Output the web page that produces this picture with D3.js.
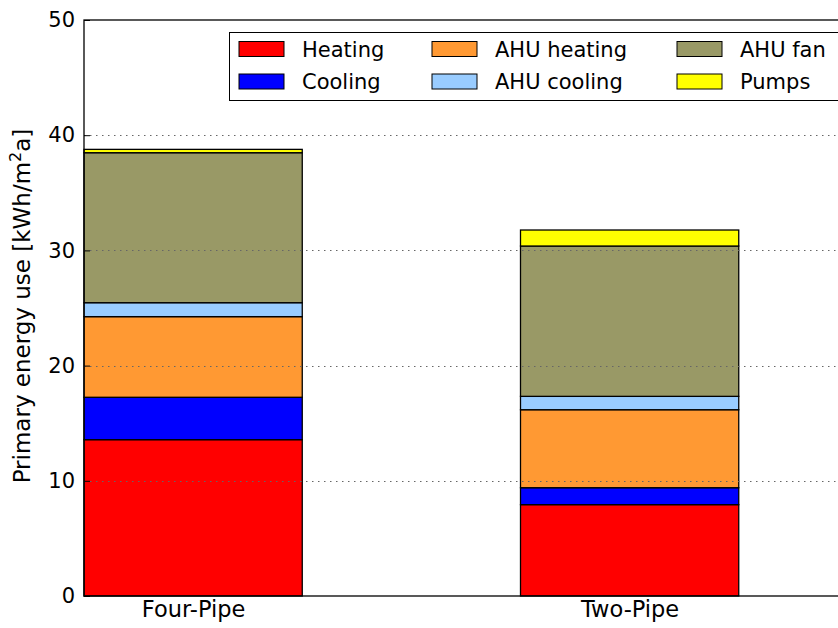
<!DOCTYPE html>
<html><head><meta charset="utf-8">
<script src="https://cdn.jsdelivr.net/npm/d3@7"></script>
<style>body{margin:0;background:#fff;} svg{display:block;font-family:"DejaVu Sans",sans-serif;}</style>
</head><body>
<svg id="c" width="838" height="628"></svg>
<script>
const categories = ["Four-Pipe", "Two-Pipe"];
const seriesNames = ["Heating", "Cooling", "AHU heating", "AHU cooling", "AHU fan", "Pumps"];
const seriesColors = ["#ff0000", "#0000ff", "#ff9933", "#99ccff", "#999966", "#ffff00"];
const heating = [13.57, 7.93];
const cooling = [3.68, 1.47];
const ahuHeating = [7.0, 6.77];
const ahuCooling = [1.21, 1.16];
const ahuFan = [13.02, 13.05];
const pumps = [0.29, 1.39];
const yTicks = [0, 10, 20, 30, 40, 50];
const gridTicks = [10, 20, 30, 40];

const seriesValues = [heating, cooling, ahuHeating, ahuCooling, ahuFan, pumps];
const svg = d3.select("#c");
const L = 84, T = 20, B = 596, R = 1058;
const x = d3.scaleLinear().domain([-0.25, 2.0]).range([L, L + 2.25 * 436.5]);
const y = d3.scaleLinear().domain([0, 50]).range([B, T]);
const barW = 0.5;

const rows = categories.map((c, i) => {
  const o = {cat: c, idx: i};
  seriesNames.forEach((s, k) => o[s] = seriesValues[k][i]);
  return o;
});
const stack = d3.stack().keys(seriesNames)(rows);

const g = svg.append("g");
stack.forEach((layer, k) => {
  g.selectAll(null).data(layer).enter().append("rect")
    .attr("x", d => x(d.data.idx - barW / 2))
    .attr("width", d => x(d.data.idx + barW / 2) - x(d.data.idx - barW / 2))
    .attr("y", d => y(d[1]))
    .attr("height", d => y(d[0]) - y(d[1]))
    .attr("fill", seriesColors[k])
    .attr("stroke", "#000").attr("stroke-width", 1.3);
});

// grid
svg.append("g").selectAll("line").data(gridTicks).enter().append("line")
  .attr("x1", L).attr("x2", 838)
  .attr("y1", d => Math.round(y(d)) + 0.5).attr("y2", d => Math.round(y(d)) + 0.5)
  .attr("stroke", "#666").attr("stroke-width", 1).attr("stroke-dasharray", "1.5,4.5");

// axes
const yAxis = d3.axisLeft(y).tickValues(yTicks).tickSize(-6).tickPadding(9).tickFormat(d3.format("d"));
const ya = svg.append("g").attr("transform", `translate(${L},0)`).call(yAxis);
ya.select(".domain").remove();
ya.selectAll("text").attr("font-size", 21).attr("fill", "#000").attr("font-family", "DejaVu Sans");
ya.selectAll("line").attr("stroke", "#000");

const xAxis = d3.axisBottom(x).tickValues([0, 1]).tickSize(0).tickPadding(5).tickFormat(i => categories[i]);
const xa = svg.append("g").attr("transform", `translate(0,${B})`).call(xAxis);
xa.select(".domain").remove();
xa.selectAll("text").attr("font-size", 22.5).attr("fill", "#000").attr("font-family", "DejaVu Sans");

// spines
svg.append("rect").attr("x", L).attr("y", T).attr("width", R - L).attr("height", B - T)
  .attr("fill", "none").attr("stroke", "#000").attr("stroke-width", 1.3);

// y label
const yl = svg.append("text").attr("transform", `translate(30,${(T + B) / 2 - 2}) rotate(-90)`)
  .attr("text-anchor", "middle").attr("font-size", 23).attr("fill", "#000");
yl.append("tspan").text("Primary energy use [kWh/m");
yl.append("tspan").attr("dy", -9).attr("font-size", 16).text("2");
yl.append("tspan").attr("dy", 9).text("a]");

// legend
const lg = svg.append("g");
lg.append("rect").attr("x", 229.5).attr("y", 32.5).attr("width", 640).attr("height", 68)
  .attr("fill", "#fff").attr("stroke", "#000").attr("stroke-width", 1);
const colX = [239, 432, 677];
const rowY = [41.5, 74];
seriesNames.forEach((s, k) => {
  const col = Math.floor(k / 2), row = k % 2;
  lg.append("rect").attr("x", colX[col]).attr("y", rowY[row]).attr("width", 45).attr("height", 15)
    .attr("fill", seriesColors[k]).attr("stroke", "#000").attr("stroke-width", 1);
  lg.append("text").attr("x", colX[col] + 63).attr("y", rowY[row] + 15)
    .attr("font-size", 21).attr("fill", "#000").text(s);
});
</script>
</body></html>
